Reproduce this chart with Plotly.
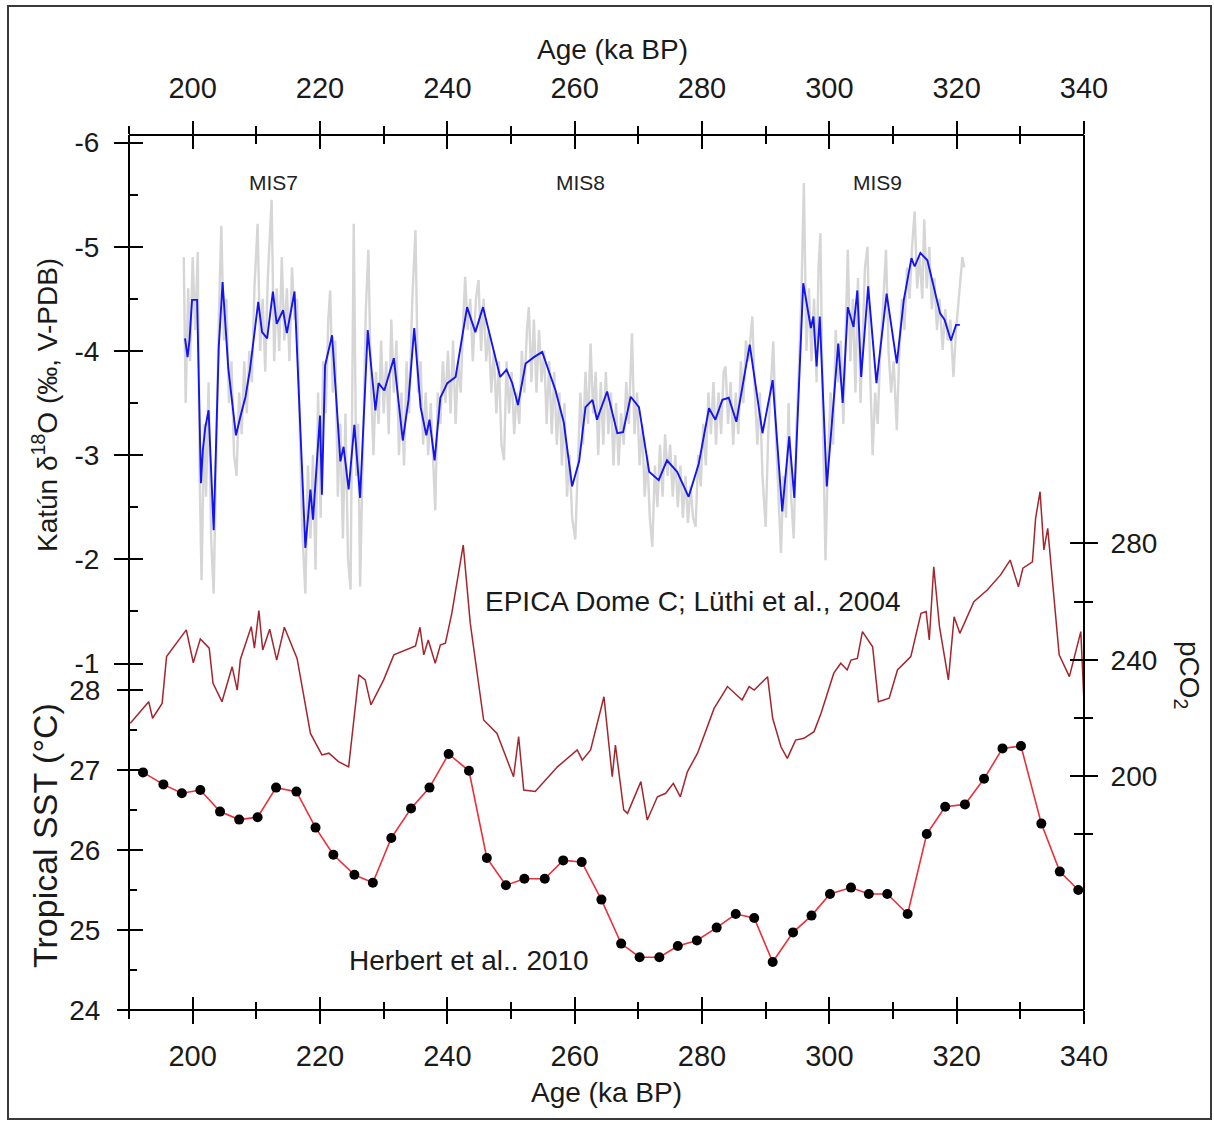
import plotly.graph_objects as go

# ---------------- axis ticks ----------------
age_major = [200, 220, 240, 260, 280, 300, 320, 340]
age_minor = [190, 210, 230, 250, 270, 290, 310, 330]

d18o_major = [-6, -5, -4, -3, -2, -1]
d18o_labels = ["-6", "-5", "-4", "-3", "-2", "-1"]
d18o_minor = [-5.5, -4.5, -3.5, -2.5, -1.5]

sst_major = [24, 25, 26, 27, 28]
sst_minor = [24.5, 25.5, 26.5, 27.5]

co2_major = [200, 240, 280]
co2_minor = [180, 220, 260]

# ---------------- Katún speleothem d18O: raw record (age ka, per mil) ----------------
katun_raw = [
    (198.6, -4.9), (198.9, -3.5), (199.3, -4.6), (199.6, -3.9), (200.0, -4.9), (200.4, -4.2),
    (200.8, -4.95), (201.1, -2.8), (201.4, -1.8), (201.8, -3.3), (202.1, -2.6), (202.5, -3.7),
    (202.9, -2.2), (203.3, -1.67), (203.7, -3.0), (204.1, -4.3), (204.5, -5.2), (204.9, -4.1),
    (205.3, -4.5), (205.7, -3.5), (206.1, -3.9), (206.5, -3.0), (206.9, -2.8), (207.3, -3.6),
    (207.7, -3.2), (208.1, -3.9), (208.5, -3.4), (208.9, -4.0), (209.3, -3.7), (209.7, -4.6),
    (210.2, -5.22), (210.6, -4.0), (211.0, -4.5), (211.4, -3.8), (211.8, -4.7), (212.4, -5.45),
    (212.8, -3.9), (213.2, -4.6), (213.6, -4.0), (214.0, -4.9), (214.4, -4.1), (214.8, -4.6),
    (215.2, -3.9), (215.6, -4.8), (216.0, -4.3), (216.4, -4.5), (216.8, -3.3), (217.2, -2.3),
    (217.7, -1.67), (218.1, -2.9), (218.5, -2.2), (218.9, -3.0), (219.3, -1.9), (219.7, -3.6),
    (220.1, -2.4), (220.5, -3.9), (220.9, -3.4), (221.3, -4.3), (221.6, -4.58), (222.0, -3.6),
    (222.4, -4.1), (222.8, -2.6), (223.2, -3.3), (223.6, -2.2), (224.0, -3.4), (224.4, -2.0),
    (224.8, -1.71), (225.3, -5.22), (225.7, -2.8), (226.0, -3.3), (226.3, -1.74), (226.8, -3.4),
    (227.2, -4.4), (227.6, -4.97), (228.0, -3.7), (228.4, -3.0), (228.8, -3.8), (229.2, -3.3),
    (229.6, -4.1), (230.0, -3.4), (230.4, -3.9), (230.8, -3.2), (231.2, -4.3), (231.6, -3.6),
    (232.0, -4.1), (232.4, -3.0), (232.8, -3.6), (233.2, -2.9), (233.6, -3.9), (234.0, -3.4),
    (234.5, -4.5), (235.0, -5.16), (235.4, -3.6), (235.8, -3.9), (236.2, -3.1), (236.6, -3.6),
    (237.0, -3.0), (237.4, -3.5), (237.8, -2.8), (238.1, -2.47), (238.5, -3.6), (238.9, -3.3),
    (239.3, -3.9), (239.7, -3.5), (240.1, -4.0), (240.5, -3.4), (240.9, -4.1), (241.3, -3.3),
    (241.7, -3.9), (242.1, -3.6), (242.5, -4.3), (242.8, -4.71), (243.2, -4.2), (243.6, -4.5),
    (244.0, -3.9), (244.5, -4.5), (244.9, -4.68), (245.3, -4.0), (245.7, -4.5), (246.1, -3.9),
    (246.5, -4.2), (246.9, -3.6), (247.3, -4.0), (247.7, -3.4), (248.1, -3.9), (248.5, -3.1),
    (248.9, -2.95), (249.3, -3.9), (249.7, -3.4), (250.1, -3.8), (250.5, -3.2), (250.9, -3.6),
    (251.3, -3.3), (251.7, -4.0), (252.1, -3.6), (252.5, -4.2), (252.8, -4.42), (253.2, -3.7),
    (253.6, -4.3), (254.0, -3.6), (254.4, -4.2), (254.8, -3.7), (255.2, -4.0), (255.6, -3.3),
    (256.0, -3.9), (256.4, -3.2), (256.8, -3.8), (257.2, -3.1), (257.6, -3.6), (258.0, -2.9),
    (258.4, -3.5), (258.8, -2.6), (259.2, -3.0), (259.6, -2.4), (260.1, -2.19), (260.5, -3.0),
    (260.9, -3.6), (261.3, -3.1), (261.7, -3.8), (262.1, -3.3), (262.5, -4.07), (262.9, -3.4),
    (263.3, -3.8), (263.7, -3.0), (264.1, -3.7), (264.5, -3.1), (264.9, -3.8), (265.3, -3.2),
    (265.7, -3.6), (266.1, -2.9), (266.5, -3.5), (266.9, -2.9), (267.3, -3.4), (267.7, -3.1),
    (268.1, -3.7), (268.5, -3.3), (269.0, -4.17), (269.4, -3.2), (269.8, -3.6), (270.2, -2.9),
    (270.6, -3.3), (271.0, -2.6), (271.4, -3.0), (271.8, -2.4), (272.2, -2.12), (272.6, -2.9),
    (273.0, -2.5), (273.4, -3.1), (273.8, -2.6), (274.2, -3.2), (274.6, -2.8), (275.0, -3.1),
    (275.4, -2.6), (275.8, -3.0), (276.2, -2.5), (276.6, -2.9), (277.0, -2.4), (277.4, -2.8),
    (277.8, -2.35), (278.2, -2.7), (278.6, -2.4), (279.0, -2.31), (279.4, -3.0), (279.8, -2.7),
    (280.2, -3.3), (280.6, -2.9), (281.0, -3.6), (281.4, -3.2), (281.8, -3.7), (282.2, -3.1),
    (282.6, -3.6), (283.0, -3.2), (283.4, -3.8), (283.7, -3.85), (284.1, -3.3), (284.5, -3.7),
    (284.9, -3.1), (285.3, -3.6), (285.7, -3.2), (286.1, -3.9), (286.5, -3.5), (286.9, -4.1),
    (287.3, -3.9), (287.9, -4.33), (288.3, -3.6), (288.7, -3.1), (289.1, -3.6), (289.5, -2.8),
    (290.0, -2.31), (290.4, -3.2), (290.8, -3.7), (291.2, -4.09), (291.6, -3.2), (292.0, -2.7),
    (292.4, -2.06), (292.8, -2.8), (293.2, -2.4), (293.6, -3.5), (294.0, -2.6), (294.4, -2.2),
    (294.8, -3.2), (295.2, -3.8), (295.6, -4.5), (296.0, -5.61), (296.4, -4.0), (296.8, -4.6),
    (297.2, -3.9), (297.6, -4.5), (298.0, -3.7), (298.3, -4.8), (298.6, -5.13), (299.0, -3.3),
    (299.4, -1.99), (299.8, -3.0), (300.2, -3.6), (300.6, -3.1), (301.0, -4.2), (301.4, -3.7),
    (301.8, -4.1), (302.2, -3.3), (302.6, -4.3), (302.9, -4.97), (303.3, -3.9), (303.7, -4.5),
    (304.1, -3.6), (304.5, -4.7), (304.9, -3.5), (305.3, -4.3), (305.6, -4.8), (306.0, -5.0),
    (306.4, -3.8), (306.8, -3.0), (307.2, -3.6), (307.6, -3.3), (308.0, -4.0), (308.4, -4.4),
    (308.9, -4.97), (309.3, -4.0), (309.7, -3.6), (310.1, -3.9), (310.6, -3.24), (311.0, -4.0),
    (311.4, -4.5), (311.8, -4.2), (312.2, -4.8), (312.6, -4.5), (313.0, -5.0), (313.4, -5.34),
    (313.8, -4.6), (314.2, -4.9), (314.6, -4.5), (314.9, -5.26), (315.3, -4.6), (315.7, -5.0),
    (316.1, -4.4), (316.5, -4.7), (316.9, -4.2), (317.3, -4.5), (317.8, -4.01), (318.2, -4.4),
    (318.6, -4.1), (319.0, -4.3), (319.5, -3.75), (319.9, -4.2), (320.3, -4.5), (320.9, -4.9),
    (321.2, -4.8),
]

# ---------------- Katún d18O: smoothed record ----------------
katun_smooth = [
    (198.8, -4.12), (199.2, -3.94), (199.5, -4.10), (199.9, -4.49), (200.7, -4.49), (201.3, -2.73),
    (201.6, -3.05), (202.0, -3.27), (202.5, -3.43), (203.3, -2.28), (204.1, -4.04), (204.7, -4.66),
    (205.6, -3.83), (206.8, -3.19), (207.5, -3.37), (208.3, -3.56), (209.0, -3.82), (210.3, -4.47),
    (210.9, -4.18), (211.7, -4.12), (212.6, -4.57), (213.2, -4.26), (214.2, -4.39), (214.8, -4.17),
    (216.0, -4.57), (217.7, -2.11), (218.5, -2.67), (218.9, -2.38), (220.0, -3.38), (220.3, -2.62),
    (220.8, -3.86), (221.9, -4.15), (223.2, -2.94), (223.7, -3.08), (224.5, -2.67), (225.4, -3.29),
    (226.3, -2.59), (227.5, -4.20), (228.7, -3.43), (229.2, -3.69), (230.1, -3.62), (231.6, -3.93),
    (233.0, -3.14), (233.9, -3.53), (234.8, -4.22), (235.8, -3.46), (236.7, -3.19), (237.2, -3.34),
    (238.0, -2.95), (238.9, -3.55), (240.0, -3.69), (241.3, -3.75), (243.1, -4.42), (244.4, -4.18),
    (245.6, -4.42), (248.3, -3.75), (249.3, -3.82), (250.2, -3.69), (251.1, -3.48), (252.3, -3.88),
    (253.6, -3.94), (254.9, -3.99), (257.0, -3.62), (258.3, -3.31), (259.6, -2.70), (260.7, -2.94),
    (261.7, -3.46), (262.8, -3.53), (263.5, -3.34), (265.1, -3.61), (266.7, -3.21), (267.6, -3.22),
    (268.8, -3.56), (270.1, -3.46), (271.7, -2.84), (273.2, -2.76), (274.5, -2.95), (276.1, -2.84),
    (277.9, -2.60), (279.5, -2.92), (281.1, -3.45), (282.1, -3.34), (283.2, -3.53), (284.2, -3.55),
    (285.4, -3.32), (287.5, -4.06), (289.5, -3.21), (291.1, -3.72), (292.6, -2.46), (293.7, -3.18),
    (294.5, -2.59), (295.2, -3.69), (295.9, -4.65), (297.1, -4.22), (297.5, -4.33), (298.0, -3.85),
    (298.5, -4.33), (299.6, -2.70), (300.6, -3.51), (301.4, -4.07), (302.1, -3.50), (302.9, -4.42),
    (303.8, -4.23), (304.4, -4.58), (305.0, -3.75), (306.1, -4.62), (307.4, -3.69), (309.0, -4.55),
    (310.6, -3.88), (311.7, -4.49), (312.9, -4.89), (313.4, -4.81), (314.3, -4.94), (315.4, -4.87),
    (317.4, -4.36), (318.1, -4.30), (319.1, -4.10), (319.9, -4.25), (320.5, -4.25),
]

# ---------------- EPICA Dome C atmospheric CO2 (ppmv) ----------------
epica_co2 = [
    (190.2, 218.2), (193.1, 225.6), (193.7, 219.9), (195.2, 225.0), (195.9, 241.1), (199.0, 250.3),
    (200.1, 239.0), (201.2, 247.2), (202.6, 244.0), (203.2, 231.9), (204.6, 225.6), (206.2, 237.6),
    (207.0, 229.6), (207.5, 240.2), (209.2, 251.4), (209.7, 244.0), (210.4, 256.9), (211.0, 243.4),
    (212.1, 250.5), (213.2, 239.9), (214.4, 251.2), (216.4, 240.5), (218.5, 214.7), (220.3, 207.3),
    (221.4, 207.9), (222.9, 205.0), (224.5, 203.2), (226.1, 234.8), (227.1, 233.1), (228.0, 224.5),
    (230.0, 233.1), (231.6, 241.7), (235.0, 244.8), (235.7, 251.2), (236.3, 241.7), (237.0, 246.8),
    (238.1, 238.8), (238.9, 245.1), (239.7, 245.7), (240.7, 256.0), (242.5, 279.5), (243.6, 252.6),
    (245.7, 219.3), (247.8, 214.7), (250.4, 199.8), (251.2, 213.6), (252.0, 195.2), (253.8, 194.7),
    (257.3, 203.2), (260.4, 209.0), (261.2, 205.5), (262.5, 209.0), (264.6, 227.3), (265.9, 199.8),
    (266.4, 210.7), (267.7, 188.4), (268.3, 187.2), (270.4, 198.1), (271.4, 184.9), (273.0, 192.9),
    (274.3, 194.1), (275.5, 197.5), (276.6, 192.9), (277.7, 201.5), (279.3, 207.9), (281.9, 223.3),
    (284.0, 230.8), (286.3, 226.2), (287.4, 230.8), (288.2, 229.6), (290.3, 234.2), (291.1, 219.9),
    (292.4, 210.1), (293.4, 206.1), (294.7, 212.4), (296.0, 213.0), (297.6, 215.3), (298.7, 221.6),
    (300.7, 235.4), (301.8, 238.8), (302.8, 236.5), (303.4, 239.9), (304.4, 240.5), (305.2, 249.7),
    (306.8, 244.5), (307.7, 225.6), (309.4, 226.8), (310.7, 236.5), (312.8, 241.1), (314.4, 256.0),
    (315.2, 256.6), (315.7, 246.8), (316.4, 272.0), (317.3, 251.4), (318.7, 233.1), (319.6, 254.8),
    (320.5, 249.1), (322.7, 260.0), (324.8, 264.0), (326.9, 269.2), (328.4, 274.3), (329.7, 265.1),
    (330.4, 271.5), (331.9, 273.7), (332.4, 288.7), (333.1, 297.8), (333.7, 277.8), (334.3, 285.2),
    (336.1, 241.7), (337.7, 234.2), (339.5, 249.7), (340.5, 201.1),
]

# ---------------- Tropical SST stack (Herbert et al., 2010) ----------------
sst_age = [192.2, 195.4, 198.3, 201.2, 204.3, 207.3, 210.2, 213.1, 216.3, 219.3,
           222.1, 225.4, 228.3, 231.2, 234.3, 237.2, 240.2, 243.4, 246.2, 249.2,
           252.1, 255.3, 258.2, 261.1, 264.2, 267.3, 270.2, 273.3, 276.2, 279.2,
           282.3, 285.3, 288.2, 291.1, 294.3, 297.2, 300.1, 303.4, 306.2, 309.1,
           312.3, 315.3, 318.2, 321.3, 324.3, 327.2, 330.1, 333.3, 336.2, 339.1]
sst_val = [26.97, 26.82, 26.71, 26.75, 26.48, 26.38, 26.41, 26.78, 26.73, 26.28,
           25.94, 25.69, 25.59, 26.15, 26.52, 26.78, 27.20, 26.99, 25.90, 25.56,
           25.64, 25.64, 25.87, 25.85, 25.38, 24.83, 24.66, 24.66, 24.80, 24.87,
           25.03, 25.20, 25.15, 24.60, 24.97, 25.18, 25.45, 25.53, 25.45, 25.45,
           25.20, 26.20, 26.54, 26.57, 26.89, 27.27, 27.30, 26.33, 25.73, 25.50]

mis_labels = ["MIS7", "MIS8", "MIS9"]
mis_age = [212.7, 260.9, 307.5]

# ---------------- figure geometry ----------------
W, H = 1214, 1122
ML, MR, MT, MB = 129, 130, 135, 112
PW, PH = W - ML - MR, H - MT - MB

FONT = "Liberation Sans, Arial, sans-serif"
INK = "#1a1a1a"
AGE_RANGE = [190, 340]
D18O_RANGE = [2.3253, -6.072]
SST_RANGE = [24.0, 34.9375]
CO2_RANGE = [119.58, 420.47]


def px_x(px):
    return (px - ML) / PW


def px_y(py):
    return (H - MB - py) / PH


fig = go.Figure()

fig.add_trace(go.Scatter(
    x=[a for a, _ in katun_raw], y=[v for _, v in katun_raw],
    mode="lines", line=dict(color="#d6d6d6", width=2.4),
    xaxis="x", yaxis="y", showlegend=False, hoverinfo="skip"))
fig.add_trace(go.Scatter(
    x=[a for a, _ in katun_smooth], y=[v for _, v in katun_smooth],
    mode="lines", line=dict(color="#1414f0", width=1.9),
    xaxis="x", yaxis="y", showlegend=False))
fig.add_trace(go.Scatter(
    x=[a for a, _ in epica_co2], y=[v for _, v in epica_co2],
    mode="lines", line=dict(color="#a3262e", width=1.5),
    xaxis="x", yaxis="y3", showlegend=False))
fig.add_trace(go.Scatter(
    x=sst_age, y=sst_val, mode="lines+markers",
    line=dict(color="#e8313b", width=1.6),
    marker=dict(color="black", size=10),
    xaxis="x", yaxis="y2", showlegend=False))

# empty traces that register the overlay axes used for the inner tick halves
for xa, ya in [("x2", "y4"), ("x3", "y5"), ("x4", "y6")]:
    fig.add_trace(go.Scatter(x=[], y=[], xaxis=xa, yaxis=ya, mode="lines",
                             showlegend=False, hoverinfo="skip"))

tickfont = dict(family=FONT, size=29, color=INK)
common = dict(showgrid=False, zeroline=False, tickwidth=2, tickcolor="black",
              fixedrange=True)


def xax(side, ticks, labels, line, overlay, standoff=0):
    d = dict(common, range=AGE_RANGE, side=side, anchor="free",
             position=0 if side == "bottom" else 1,
             tickmode="array", tickvals=age_major,
             ticktext=[str(v) for v in age_major],
             ticks=ticks, ticklen=13, showticklabels=labels,
             tickfont=tickfont, ticklabelstandoff=standoff,
             showline=line, linecolor="black", linewidth=2,
             minor=dict(tickvals=age_minor, ticks=ticks, ticklen=8,
                        tickwidth=2, tickcolor="black"))
    if overlay:
        d["overlaying"] = "x"
    return d


def yax(rng, side, ticks, major, text, minor, mlen, minor_ticks, minor_len,
        labels, line, overlay, standoff=0):
    d = dict(common, range=rng, side=side, anchor="free",
             position=0 if side == "left" else 1,
             tickmode="array", tickvals=major, ticktext=text,
             ticks=ticks, ticklen=mlen, showticklabels=labels,
             tickfont=dict(family=FONT, size=28, color=INK),
             ticklabelstandoff=standoff,
             showline=line, linecolor="black", linewidth=2,
             minor=dict(tickvals=minor, ticks=minor_ticks, ticklen=minor_len,
                        tickwidth=2, tickcolor="black"))
    if overlay:
        d["overlaying"] = "y"
    return d


sst_text = [str(v) for v in sst_major]
co2_text = [str(v) for v in co2_major]

fig.update_layout(
    width=W, height=H,
    margin=dict(l=ML, r=MR, t=MT, b=MB, pad=0),
    paper_bgcolor="white", plot_bgcolor="white",
    font=dict(family=FONT, color=INK),
    xaxis=xax("bottom", "outside", True, True, False, standoff=7),
    xaxis2=xax("bottom", "inside", False, False, True),
    xaxis3=xax("top", "outside", True, True, True, standoff=11),
    xaxis4=xax("top", "inside", False, False, True),
    yaxis=yax(D18O_RANGE, "left", "outside", d18o_major, d18o_labels,
              d18o_minor, 14, "", 0, True, True, False, standoff=9),
    yaxis4=yax(D18O_RANGE, "left", "inside", d18o_major, d18o_labels,
               d18o_minor, 13, "inside", 8, False, False, True),
    yaxis2=yax(SST_RANGE, "left", "outside", sst_major, sst_text,
               sst_minor, 12, "", 0, True, False, True, standoff=11),
    yaxis5=yax(SST_RANGE, "left", "inside", sst_major, sst_text,
               sst_minor, 13, "inside", 7, False, False, True),
    yaxis3=yax(CO2_RANGE, "right", "outside", co2_major, co2_text,
               co2_minor, 13, "outside", 8, True, True, True, standoff=7),
    yaxis6=yax(CO2_RANGE, "right", "inside", co2_major, co2_text,
               co2_minor, 14, "inside", 10, False, False, True),
)

# axis titles
titles = [
    dict(text="Age (ka BP)", x=px_x(612), y=px_y(50), textangle=0, size=28),
    dict(text="Age (ka BP)", x=px_x(606), y=px_y(1092), textangle=0, size=28),
    dict(text="Katún δ<sup>18</sup>O (‰, V-PDB)", x=px_x(45), y=px_y(405),
         textangle=-90, size=28),
    dict(text="Tropical SST (°C)", x=px_x(45), y=px_y(836), textangle=-90, size=34),
    dict(text="pCO<sub>2</sub>", x=px_x(1188), y=px_y(675), textangle=90, size=28),
]
for t in titles:
    fig.add_annotation(text=t["text"], x=t["x"], y=t["y"], xref="paper",
                       yref="paper", showarrow=False, textangle=t["textangle"],
                       xanchor="center", yanchor="middle",
                       font=dict(family=FONT, size=t["size"], color=INK))

# marine isotope stage labels
for lab, a in zip(mis_labels, mis_age):
    fig.add_annotation(text=lab, x=a, y=-5.62, xref="x", yref="y",
                       showarrow=False, xanchor="center", yanchor="middle",
                       font=dict(family=FONT, size=21, color="#222222"))

# record source labels
fig.add_annotation(text="EPICA Dome C; Lüthi et al., 2004", x=245.67, y=260.2,
                   xref="x", yref="y3", showarrow=False, xanchor="left",
                   yanchor="middle", font=dict(family=FONT, size=28, color=INK))
fig.add_annotation(text="Herbert et al.. 2010", x=224.3, y=24.625,
                   xref="x", yref="y2", showarrow=False, xanchor="left",
                   yanchor="middle", font=dict(family=FONT, size=28, color=INK))

# thin frame around the whole figure
fig.add_shape(type="rect", xref="paper", yref="paper",
              x0=px_x(8), x1=px_x(1211), y0=px_y(1119), y1=px_y(6),
              line=dict(color="#3a3a3a", width=2), fillcolor="rgba(0,0,0,0)",
              layer="below")

fig.write_html("out.html")
